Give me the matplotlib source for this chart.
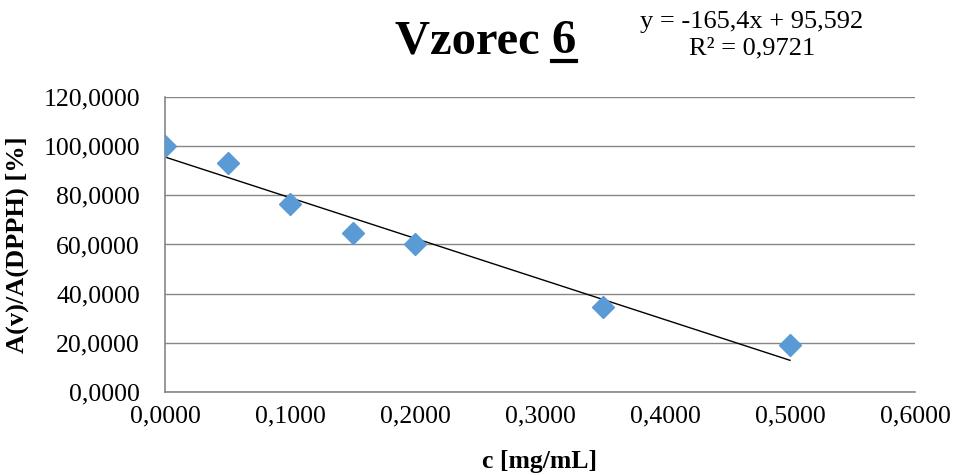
import matplotlib
matplotlib.use("Agg")
import matplotlib.pyplot as plt
import numpy as np
from matplotlib.lines import Line2D

conc = [0.0, 0.05, 0.10, 0.15, 0.20, 0.35, 0.50]
ratio = [100.0, 93.0, 76.4, 64.7, 60.0, 34.5, 19.0]
slope, intercept = -165.4, 95.592
r2 = 0.9721
xticks = [0.0, 0.1, 0.2, 0.3, 0.4, 0.5, 0.6]
yticks = [0, 20, 40, 60, 80, 100, 120]

plt.rcParams['font.family'] = ['Liberation Serif', 'DejaVu Serif']

fig = plt.figure(figsize=(9.59, 4.75), dpi=100)
ax = fig.add_axes([165/959, 1-392/475, (915-165)/959, (392-97)/475])

ax.plot(conc, ratio, linestyle='none', marker='D', markersize=11,
        color='#5B9BD5', zorder=3)
xt = np.array([0.0, 0.5])
ax.plot(xt, slope*xt + intercept, color='black', lw=1.0, zorder=2)

ax.set_xlim(0, 0.6)
ax.set_ylim(0, 120)
ax.set_xticks(xticks)
ax.set_xticklabels([f"{v:.4f}".replace('.', ',') for v in xticks])
ax.set_yticks(yticks)
ax.set_yticklabels([f"{v:.4f}".replace('.', ',') for v in yticks])
ax.tick_params(length=0, labelsize=18.5)
ax.tick_params(axis='x', pad=10)
ax.tick_params(axis='y', pad=18)
ax.yaxis.grid(True, color='#868686', lw=1)
ax.set_axisbelow(True)
for s in ['top', 'right']:
    ax.spines[s].set_visible(False)
for s in ['left', 'bottom']:
    ax.spines[s].set_color('#868686')
    ax.spines[s].set_linewidth(1.2)

ax.set_xlabel('c [mg/mL]', fontsize=18.5, fontweight='bold', labelpad=16)
ax.set_ylabel('A(v)/A(DPPH) [%]', fontsize=19, fontweight='bold', labelpad=10)

t1 = fig.text(395/959, 1-41/475, 'Vzorec ', fontsize=35, fontweight='bold',
              ha='left', va='center')
fig.canvas.draw()
r = fig.canvas.get_renderer()
bb = t1.get_window_extent(r)
t2 = fig.text(bb.x1/959, 1-41/475, '6', fontsize=35, fontweight='bold',
              ha='left', va='center')
fig.canvas.draw()
bb2 = t2.get_window_extent(r)
uy = 1 - 61/475
fig.add_artist(Line2D([bb2.x0/959, bb2.x1/959], [uy, uy], color='black', lw=3,
                      transform=fig.transFigure))

fig.text(752/959, 1-22/475, f"y = {slope:.1f}x + {intercept:.3f}".replace('.', ','),
         fontsize=19, ha='center', va='center')
fig.text(752/959, 1-48/475, f"R² = {r2:.4f}".replace('.', ','),
         fontsize=19, ha='center', va='center')

fig.savefig('out.png', dpi=100)
